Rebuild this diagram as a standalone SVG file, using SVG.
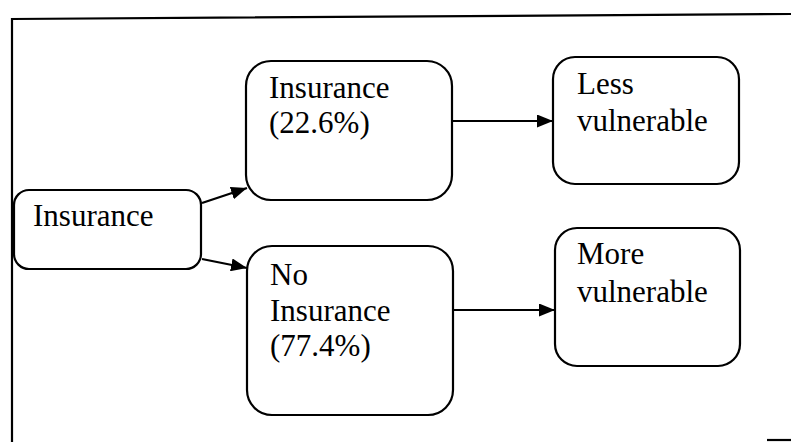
<svg xmlns="http://www.w3.org/2000/svg" width="791" height="442" viewBox="0 0 791 442">
<style>
.box{fill:#fff;stroke:#000;stroke-width:2.2}
.t{font-family:"Liberation Serif","Times New Roman",serif;font-size:31px;fill:#000}
.c{stroke:#000;stroke-width:2.2;fill:none}
</style>
<defs>
<marker id="ah" viewBox="0 0 16 13" refX="16" refY="6.5" markerWidth="16" markerHeight="13" markerUnits="userSpaceOnUse" orient="auto">
<path d="M0,0 L16,6.5 L0,13 Z" fill="#000"/>
</marker>
</defs>
<rect width="791" height="442" fill="#fff"/>
<path d="M12,442 L12,19 L791,14" class="c"/>
<path d="M767,440 L791,440" class="c"/>
<g id="connectors">
<line x1="202" y1="203" x2="247" y2="188" class="c" marker-end="url(#ah)"/>
<line x1="202" y1="259" x2="247" y2="268" class="c" marker-end="url(#ah)"/>
<line x1="452" y1="121" x2="553" y2="121" class="c" marker-end="url(#ah)"/>
<line x1="453" y1="310" x2="555" y2="310" class="c" marker-end="url(#ah)"/>
</g>
<g id="insurance">
<rect x="14" y="190" width="187" height="79" rx="15" class="box"/>
<text x="33" y="226" class="t">Insurance</text>
</g>
<g id="insured">
<rect x="246" y="61" width="206" height="139" rx="25" class="box"/>
<text x="269" y="98" class="t">Insurance</text>
<text x="269" y="133" class="t">(22.6%)</text>
</g>
<g id="uninsured">
<rect x="247" y="246" width="206" height="169" rx="25" class="box"/>
<text x="270" y="285" class="t">No</text>
<text x="270" y="321" class="t">Insurance</text>
<text x="270" y="356" class="t">(77.4%)</text>
</g>
<g id="less">
<rect x="553" y="57" width="186" height="127" rx="22" class="box"/>
<text x="577" y="94" class="t">Less</text>
<text x="577" y="131" class="t">vulnerable</text>
</g>
<g id="more">
<rect x="555" y="228" width="185" height="138" rx="22" class="box"/>
<text x="577" y="264" class="t">More</text>
<text x="577" y="302" class="t">vulnerable</text>
</g>
</svg>
